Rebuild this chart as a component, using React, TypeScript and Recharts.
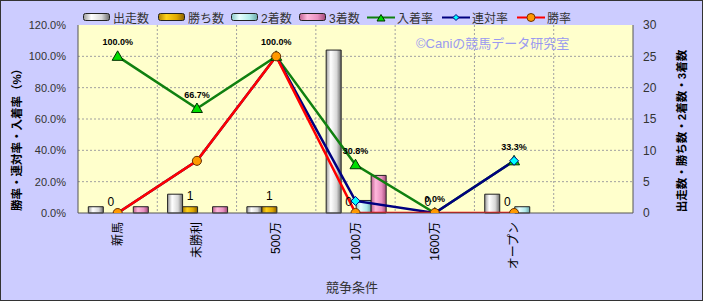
import React from 'react';
import {
  ComposedChart, Bar, Line, XAxis, YAxis, CartesianGrid, LabelList, Rectangle,
} from 'recharts';

const categories = ['新馬', '未勝利', '500万', '1000万', '1600万', 'オープン', ''];
const starts = [1, 3, 1, 26, 0, 3, null];
const wins = [0, 1, 1, 0, 0, 0, null];
const seconds = [0, 0, 0, 2, 0, 1, null];
const thirds = [1, 1, 0, 6, 0, 0, null];
const placeRate = [100, 66.7, 100, 30.8, 0, 33.3, null];
const rentaiRate = [0, 33.3, 100, 7.7, 0, 33.3, null];
const winRate = [0, 33.3, 100, 0, 0, 0, null];
const leftTicks = [0, 20, 40, 60, 80, 100, 120];
const rightTicks = [0, 5, 10, 15, 20, 25, 30];

const data = categories.map((c, i) => ({
  name: c,
  starts: starts[i],
  wins: wins[i],
  seconds: seconds[i],
  thirds: thirds[i],
  placeRate: placeRate[i],
  rentaiRate: rentaiRate[i],
  winRate: winRate[i],
}));

const FONT = '"Liberation Sans", Arial, "Noto Sans CJK JP", sans-serif';

const grads = {
  white: ['#9a9a9a', '#ffffff', '#d8d8d8', '#6a6a6a'],
  gold: ['#b08000', '#ffd21a', '#e0a800', '#8a6000'],
  cyan: ['#88c8c8', '#e8ffff', '#b0eaea', '#6aa8a8'],
  pink: ['#c06090', '#ffb8dc', '#e890c0', '#a04878'],
};

function GradDef({ id, c, vertical }: any) {
  return (
    <linearGradient id={id} x1="0" y1="0" x2={vertical ? '0' : '1'} y2={vertical ? '1' : '0'}>
      <stop offset="0%" stopColor={c[0]} />
      <stop offset="30%" stopColor={c[1]} />
      <stop offset="70%" stopColor={c[2]} />
      <stop offset="100%" stopColor={c[3]} />
    </linearGradient>
  );
}

const Triangle = (p: any) => {
  const { cx, cy } = p;
  if (cx == null || cy == null || isNaN(cy)) return <g key={p.key} />;
  return (
    <polygon key={p.key} points={`${cx},${cy - 5.5} ${cx - 5.5},${cy + 4} ${cx + 5.5},${cy + 4}`}
      fill="#00dd00" stroke="#003000" strokeWidth={1} />
  );
};
const Diamond = (p: any) => {
  const { cx, cy } = p;
  if (cx == null || cy == null || isNaN(cy)) return <g key={p.key} />;
  return (
    <polygon key={p.key} points={`${cx},${cy - 4.5} ${cx + 4.5},${cy} ${cx},${cy + 4.5} ${cx - 4.5},${cy}`}
      fill="#00ffff" stroke="#000080" strokeWidth={1} />
  );
};
const Circle = (p: any) => {
  const { cx, cy } = p;
  if (cx == null || cy == null || isNaN(cy)) return <g key={p.key} />;
  return <circle key={p.key} cx={cx} cy={cy} r={4.5} fill="#ff9900" stroke="#6a3000" strokeWidth={1} />;
};

const XTick = (p: any) => {
  const { x, y, payload } = p;
  const yy = y + 1;
  return (
    <text x={x} y={yy} transform={`rotate(-90 ${x} ${yy})`} textAnchor="end" dy="0.35em"
      fontSize={12} fill="#000" fontFamily={FONT}>
      {payload.value}
    </text>
  );
};

const WinsShape = (p: any) => {
  const v = p.payload ? p.payload.wins : null;
  if (v == null || v <= 0) return <g />;
  return <Rectangle {...p} />;
};

const WinsLabel = (p: any) => {
  const { x, y, width, value } = p;
  if (value == null || x == null) return null;
  return (
    <text x={Number(x) + Number(width) / 2} y={Number(y) - 7} textAnchor="middle" fontSize={12} fill="#000" fontFamily={FONT}>
      {String(value)}
    </text>
  );
};

function LegendBar({ left, c, label, id }: any) {
  return (
    <div style={{ position: 'absolute', left, top: 10, display: 'flex', alignItems: 'center', height: 14 }}>
      <svg width={28} height={9} style={{ display: 'block' }}>
        <defs><GradDef id={id} c={c} vertical={false} /></defs>
        <rect x={0.5} y={0.5} width={26} height={7} rx={2} fill={`url(#${id})`} stroke="#222" />
      </svg>
      <span style={{ marginLeft: 2, fontSize: 12, color: '#333', whiteSpace: 'nowrap' }}>{label}</span>
    </div>
  );
}

function LegendLine({ left, color, marker, label }: any) {
  let m: any = null;
  if (marker === 'tri') m = <polygon points="14,1.5 10,8 18,8" fill="#00dd00" stroke="#003000" strokeWidth={1} />;
  if (marker === 'dia') m = <polygon points="14,1.5 17,4.5 14,7.5 11,4.5" fill="#00ffff" stroke="#000080" strokeWidth={1} />;
  if (marker === 'cir') m = <circle cx={14} cy={4.5} r={4} fill="#ff9900" stroke="#6a3000" strokeWidth={1} />;
  return (
    <div style={{ position: 'absolute', left, top: 10, display: 'flex', alignItems: 'center', height: 14 }}>
      <svg width={28} height={9} style={{ display: 'block' }}>
        <line x1={0} y1={4.5} x2={28} y2={4.5} stroke={color} strokeWidth={2} />
        {m}
      </svg>
      <span style={{ marginLeft: 2, fontSize: 12, color: '#333', whiteSpace: 'nowrap' }}>{label}</span>
    </div>
  );
}

const fmtPct = (v: any) => (v == null ? '' : Number(v).toFixed(1) + '%');

export default function App() {
  return (
    <div style={{ position: 'absolute', left: 0, top: 0, width: 703, height: 301, background: '#ccccff', fontFamily: FONT, overflow: 'hidden' }}>
      <ComposedChart width={703} height={301} data={data}
        margin={{ top: 25, right: 20, bottom: 28, left: 18 }}
        barCategoryGap="13%" barGap={0}>
        <defs>
          <GradDef id="gWhite" c={grads.white} />
          <GradDef id="gGold" c={grads.gold} />
          <GradDef id="gCyan" c={grads.cyan} />
          <GradDef id="gPink" c={grads.pink} />
        </defs>
        <CartesianGrid fill="#ffffcc" fillOpacity={1} stroke="#a0a0a0" strokeDasharray="2 2"
          verticalCoordinatesGenerator={({ offset }: any) => [1, 2, 3, 4, 5, 6].map((i) => offset.left + (offset.width * i) / 7)}
          horizontalCoordinatesGenerator={({ offset }: any) => [20, 40, 60, 80, 100].map((v) => offset.top + offset.height * (1 - v / 120))}
        />
        <XAxis dataKey="name" height={60} tickLine={false} tickSize={4} tickMargin={4}
          axisLine={{ stroke: '#555' }} tick={<XTick />} interval={0} />
        <YAxis yAxisId="left" width={60} domain={[0, 120]} ticks={leftTicks} tickFormatter={fmtPct}
          tickLine={false} tickSize={6} tickMargin={6} axisLine={{ stroke: '#555' }}
          tick={{ fontSize: 11, fill: '#333' }} allowDataOverflow />
        <YAxis yAxisId="right" orientation="right" width={50} domain={[0, 30]} ticks={rightTicks}
          tickLine={false} tickSize={6} tickMargin={4} axisLine={{ stroke: '#555' }}
          tick={{ fontSize: 12, fill: '#333', textAnchor: 'start' }} />
        <Bar yAxisId="right" dataKey="starts" fill="url(#gWhite)" stroke="#222" strokeWidth={1} isAnimationActive={false} />
        <Bar yAxisId="right" dataKey="wins" fill="url(#gGold)" stroke="#222" strokeWidth={1} isAnimationActive={false}
          minPointSize={0.01} shape={<WinsShape />}>
          <LabelList dataKey="wins" content={<WinsLabel />} />
        </Bar>
        <Bar yAxisId="right" dataKey="seconds" fill="url(#gCyan)" stroke="#222" strokeWidth={1} isAnimationActive={false} />
        <Bar yAxisId="right" dataKey="thirds" fill="url(#gPink)" stroke="#222" strokeWidth={1} isAnimationActive={false} />
        <Line yAxisId="left" dataKey="placeRate" stroke="#108010" strokeWidth={2.5} dot={<Triangle />}
          activeDot={false} isAnimationActive={false}>
          <LabelList dataKey="placeRate" position="top" offset={11} fontSize={9} fontWeight="bold" fill="#000" formatter={fmtPct} />
        </Line>
        <Line yAxisId="left" dataKey="rentaiRate" stroke="#000080" strokeWidth={2.5} dot={<Diamond />}
          activeDot={false} isAnimationActive={false} />
        <Line yAxisId="left" dataKey="winRate" stroke="#ff0000" strokeWidth={2.5} dot={<Circle />}
          activeDot={false} isAnimationActive={false} />
      </ComposedChart>

      <LegendBar left={83} c={grads.white} label="出走数" id="lg1" />
      <LegendBar left={158} c={grads.gold} label="勝ち数" id="lg2" />
      <LegendBar left={231} c={grads.cyan} label="2着数" id="lg3" />
      <LegendBar left={299} c={grads.pink} label="3着数" id="lg4" />
      <LegendLine left={367} color="#108010" marker="tri" label="入着率" />
      <LegendLine left={442} color="#000080" marker="dia" label="連対率" />
      <LegendLine left={517} color="#ff0000" marker="cir" label="勝率" />

      <div style={{ position: 'absolute', left: 416, top: 36, fontSize: 13, color: '#9a9af0', whiteSpace: 'nowrap', lineHeight: '16px' }}>
        ©Caniの競馬データ研究室
      </div>
      <div style={{ position: 'absolute', left: 16, top: 137, transform: 'translate(-50%, -50%) rotate(-90deg)', fontSize: 11.5, fontWeight: 'bold', color: '#000', whiteSpace: 'nowrap' }}>
        勝率・連対率・入着率（%）
      </div>
      <div style={{ position: 'absolute', left: 681, top: 131, transform: 'translate(-50%, -50%) rotate(-90deg)', fontSize: 11.5, fontWeight: 'bold', color: '#000', whiteSpace: 'nowrap' }}>
        出走数・勝ち数・2着数・3着数
      </div>
      <div style={{ position: 'absolute', left: 352, top: 286, transform: 'translate(-50%, -50%)', fontSize: 13, color: '#333', whiteSpace: 'nowrap' }}>
        競争条件
      </div>
      <div style={{ position: 'absolute', left: 0, top: 0, width: 703, height: 301, boxSizing: 'border-box', border: '1px solid #333', pointerEvents: 'none' }} />
    </div>
  );
}
